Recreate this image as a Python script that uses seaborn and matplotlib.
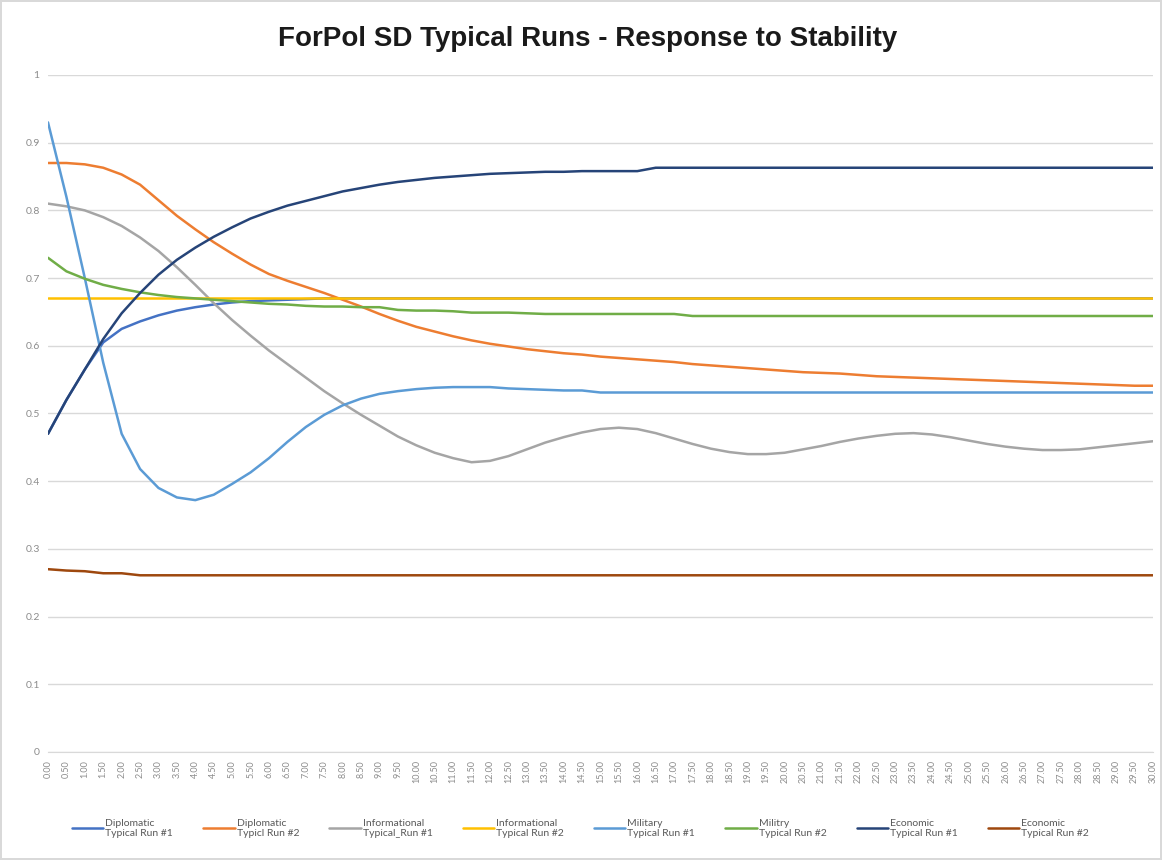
import matplotlib
matplotlib.use('Agg')
import pandas as pd
import matplotlib.pyplot as plt
import seaborn as sns

# DATA (one point every 0.5 time units)
t = [i / 2 for i in range(61)]
tick_labels = ['{:.2f}'.format(v) for v in t]

dip1 = [0.47, 0.52, 0.565, 0.605, 0.625, 0.636, 0.645, 0.652, 0.657, 0.661,
        0.664, 0.666, 0.667, 0.668, 0.669, 0.67, 0.67, 0.67, 0.67, 0.67,
        0.67, 0.67, 0.67, 0.67, 0.67, 0.67, 0.67, 0.67, 0.67, 0.67,
        0.67, 0.67, 0.67, 0.67, 0.67, 0.67, 0.67, 0.67, 0.67, 0.67,
        0.67, 0.67, 0.67, 0.67, 0.67, 0.67, 0.67, 0.67, 0.67, 0.67,
        0.67, 0.67, 0.67, 0.67, 0.67, 0.67, 0.67, 0.67, 0.67, 0.67,
        0.67]
dip2 = [0.87, 0.87, 0.868, 0.863, 0.853, 0.838, 0.815, 0.792, 0.772, 0.753,
        0.736, 0.72, 0.706, 0.696, 0.687, 0.678, 0.668, 0.658, 0.647, 0.637,
        0.628, 0.621, 0.614, 0.608, 0.603, 0.599, 0.595, 0.592, 0.589, 0.587,
        0.584, 0.582, 0.58, 0.578, 0.576, 0.573, 0.571, 0.569, 0.567, 0.565,
        0.563, 0.561, 0.56, 0.559, 0.557, 0.555, 0.554, 0.553, 0.552, 0.551,
        0.55, 0.549, 0.548, 0.547, 0.546, 0.545, 0.544, 0.543, 0.542, 0.541,
        0.541]
inf1 = [0.81, 0.806, 0.8, 0.79, 0.777, 0.76, 0.74, 0.716, 0.69, 0.663,
        0.638, 0.615, 0.593, 0.573, 0.553, 0.533, 0.515, 0.498, 0.482, 0.466,
        0.453, 0.442, 0.434, 0.428, 0.43, 0.437, 0.447, 0.457, 0.465, 0.472,
        0.477, 0.479, 0.477, 0.471, 0.463, 0.455, 0.448, 0.443, 0.44, 0.44,
        0.442, 0.447, 0.452, 0.458, 0.463, 0.467, 0.47, 0.471, 0.469, 0.465,
        0.46, 0.455, 0.451, 0.448, 0.446, 0.446, 0.447, 0.45, 0.453, 0.456,
        0.459]
inf2 = [0.67, 0.67, 0.67, 0.67, 0.67, 0.67, 0.67, 0.67, 0.67, 0.67,
        0.67, 0.67, 0.67, 0.67, 0.67, 0.67, 0.67, 0.67, 0.67, 0.67,
        0.67, 0.67, 0.67, 0.67, 0.67, 0.67, 0.67, 0.67, 0.67, 0.67,
        0.67, 0.67, 0.67, 0.67, 0.67, 0.67, 0.67, 0.67, 0.67, 0.67,
        0.67, 0.67, 0.67, 0.67, 0.67, 0.67, 0.67, 0.67, 0.67, 0.67,
        0.67, 0.67, 0.67, 0.67, 0.67, 0.67, 0.67, 0.67, 0.67, 0.67,
        0.67]
mil1 = [0.93, 0.82, 0.70, 0.575, 0.47, 0.418, 0.39, 0.376, 0.372, 0.38,
        0.396, 0.413, 0.434, 0.458, 0.48, 0.498, 0.512, 0.522, 0.529, 0.533,
        0.536, 0.538, 0.539, 0.539, 0.539, 0.537, 0.536, 0.535, 0.534, 0.534,
        0.531, 0.531, 0.531, 0.531, 0.531, 0.531, 0.531, 0.531, 0.531, 0.531,
        0.531, 0.531, 0.531, 0.531, 0.531, 0.531, 0.531, 0.531, 0.531, 0.531,
        0.531, 0.531, 0.531, 0.531, 0.531, 0.531, 0.531, 0.531, 0.531, 0.531,
        0.531]
mil2 = [0.73, 0.71, 0.699, 0.69, 0.684, 0.679, 0.675, 0.672, 0.67, 0.668,
        0.666, 0.664, 0.662, 0.661, 0.659, 0.658, 0.658, 0.657, 0.657, 0.653,
        0.652, 0.652, 0.651, 0.649, 0.649, 0.649, 0.648, 0.647, 0.647, 0.647,
        0.647, 0.647, 0.647, 0.647, 0.647, 0.644, 0.644, 0.644, 0.644, 0.644,
        0.644, 0.644, 0.644, 0.644, 0.644, 0.644, 0.644, 0.644, 0.644, 0.644,
        0.644, 0.644, 0.644, 0.644, 0.644, 0.644, 0.644, 0.644, 0.644, 0.644,
        0.644]
eco1 = [0.47, 0.52, 0.565, 0.61, 0.648, 0.678, 0.705, 0.727, 0.745, 0.761,
        0.775, 0.788, 0.798, 0.807, 0.814, 0.821, 0.828, 0.833, 0.838, 0.842,
        0.845, 0.848, 0.85, 0.852, 0.854, 0.855, 0.856, 0.857, 0.857, 0.858,
        0.858, 0.858, 0.858, 0.863, 0.863, 0.863, 0.863, 0.863, 0.863, 0.863,
        0.863, 0.863, 0.863, 0.863, 0.863, 0.863, 0.863, 0.863, 0.863, 0.863,
        0.863, 0.863, 0.863, 0.863, 0.863, 0.863, 0.863, 0.863, 0.863, 0.863,
        0.863]
eco2 = [0.27, 0.268, 0.267, 0.264, 0.264, 0.261, 0.261, 0.261, 0.261, 0.261,
        0.261, 0.261, 0.261, 0.261, 0.261, 0.261, 0.261, 0.261, 0.261, 0.261,
        0.261, 0.261, 0.261, 0.261, 0.261, 0.261, 0.261, 0.261, 0.261, 0.261,
        0.261, 0.261, 0.261, 0.261, 0.261, 0.261, 0.261, 0.261, 0.261, 0.261,
        0.261, 0.261, 0.261, 0.261, 0.261, 0.261, 0.261, 0.261, 0.261, 0.261,
        0.261, 0.261, 0.261, 0.261, 0.261, 0.261, 0.261, 0.261, 0.261, 0.261,
        0.261]

series_names = ['Diplomatic\nTypical Run #1', 'Diplomatic\nTypicl Run #2',
                'Informational\nTypical_Run #1', 'Informational\nTypical Run #2',
                'Military\nTypical Run #1', 'Militry\nTypical Run #2',
                'Economic\nTypical Run #1', 'Economic\nTypical Run #2']
series_values = [dip1, dip2, inf1, inf2, mil1, mil2, eco1, eco2]
# excel default office palette
colors = ['#4472C4', '#ED7D31', '#A5A5A5', '#FFC000',
          '#5B9BD5', '#70AD47', '#264478', '#9E480E']

# long format table for seaborn
df = pd.concat([pd.DataFrame({'t': t, 'value': v, 'series': n})
                for n, v in zip(series_names, series_values)],
               ignore_index=True)

# PLOTTING
sns.set_style('white')
plt.rcParams['font.family'] = ['Lato', 'DejaVu Sans']

fig = plt.figure(figsize=(11.62, 8.6), dpi=100)
ax = fig.add_axes([0.0413, 0.1256, 0.9509, 0.7872])
sns.lineplot(data=df, x='t', y='value', hue='series',
             hue_order=series_names, palette=dict(zip(series_names, colors)),
             linewidth=1.8, sort=False, ax=ax)

ax.set_xlim(0, 30)
ax.set_ylim(0, 1)
ax.set_xticks(t)
ax.set_xticklabels(tick_labels, rotation=90, fontsize=6.5, color='#8c8c8c')
ax.set_yticks([i / 10 for i in range(11)])
ax.set_yticklabels(['0'] + ['0.{}'.format(i) for i in range(1, 10)] + ['1'],
                   fontsize=7.5, color='#8c8c8c')
ax.tick_params(axis='both', length=0, pad=6)
ax.set_xlabel('')
ax.set_ylabel('')
ax.grid(axis='y', color='#d9d9d9', linewidth=1)
ax.set_axisbelow(True)
for s in ['top', 'right', 'left']:
    ax.spines[s].set_visible(False)
ax.spines['bottom'].set_color('#d9d9d9')

# legend below the axis, one row
sns.move_legend(ax, 'center', bbox_to_anchor=(0.482, -0.113), ncol=8,
                frameon=False, title=None, fontsize=7.5, handlelength=3,
                columnspacing=2.9, handletextpad=0.2, labelspacing=0.3)
for txt in ax.get_legend().get_texts():
    txt.set_color('#595959')

# title
fig.text(0.506, 0.955, 'ForPol SD Typical Runs - Response to Stability',
         ha='center', va='center', fontsize=20, fontweight='bold',
         family=['Liberation Sans', 'DejaVu Sans'], color='#1a1a1a')

# chart area border
fig.patch.set_edgecolor('#d9d9d9')
fig.patch.set_linewidth(1.5)

plt.savefig('out.png', dpi=100)
